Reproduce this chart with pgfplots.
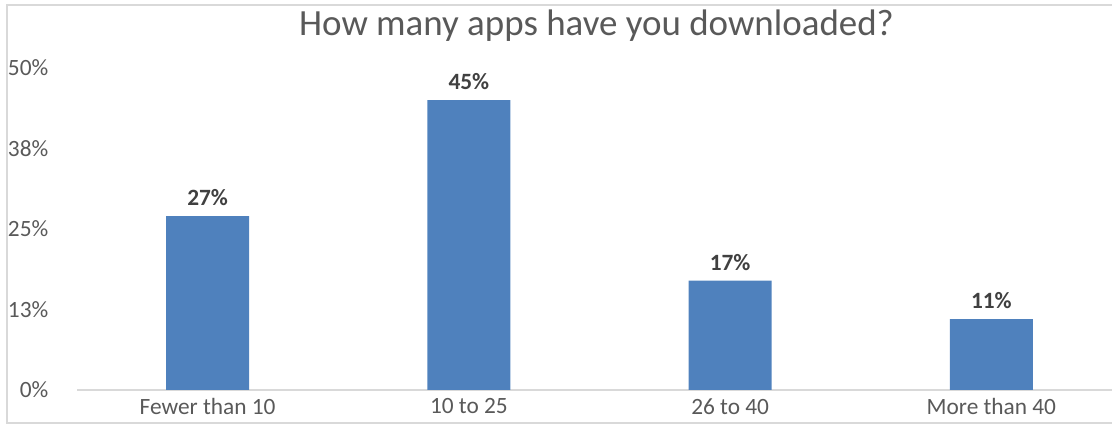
\documentclass[border=0pt]{standalone}
\usepackage{pgfplots}
\pgfplotsset{compat=1.18}
\usepackage{fontspec}
\setmainfont{Carlito}
\definecolor{barblue}{HTML}{4F81BD}
\definecolor{ticktext}{HTML}{595959}
\definecolor{labtext}{HTML}{404040}
\definecolor{gridgray}{HTML}{D9D9D9}
\begin{document}
\begin{tikzpicture}[x=0.75pt,y=0.75pt]
\begin{axis}[
  at={(57.75pt,25.5pt)}, anchor=south west,
  scale only axis,
  width=783.75pt, height=241.5pt,
  xmin=-0.5, xmax=3.5, ymin=0, ymax=0.5,
  axis line style={draw=none},
  major tick length=0pt,
  xtick={0,1,2,3},
  xticklabels={Fewer than 10,10 to 25,26 to 40,More than 40},
  ytick={0,0.125,0.25,0.375,0.5},
  yticklabels={0\%,13\%,25\%,38\%,50\%},
  tick label style={font=\fontsize{17.5}{20}\selectfont, text=ticktext},
  yticklabel style={xshift=-18pt},
  xticklabel style={yshift=-3pt},
  ybar, bar width=62.25pt,
  nodes near coords, point meta=explicit symbolic,
  every node near coord/.style={font=\bfseries\fontsize{17.5}{20}\selectfont, text=labtext, yshift=4pt},
  clip=false,
]
\draw[gridgray, line width=0.9pt] (rel axis cs:0,0) -- (rel axis cs:1,0);
\addplot[fill=barblue, draw=none] coordinates {
  (0,0.27) [27\%]
  (1,0.45) [45\%]
  (2,0.17) [17\%]
  (3,0.11) [11\%]
};
\end{axis}
\node[anchor=base, font=\fontsize{27.7}{32}\selectfont, text=ticktext] at (596.5,388) {How many apps have you downloaded?};
\draw[gridgray, line width=0.9pt] (7,1) rectangle (1140,419);
\pgfresetboundingbox
\useasboundingbox (0,0) rectangle (1112,424);
\end{tikzpicture}
\end{document}
